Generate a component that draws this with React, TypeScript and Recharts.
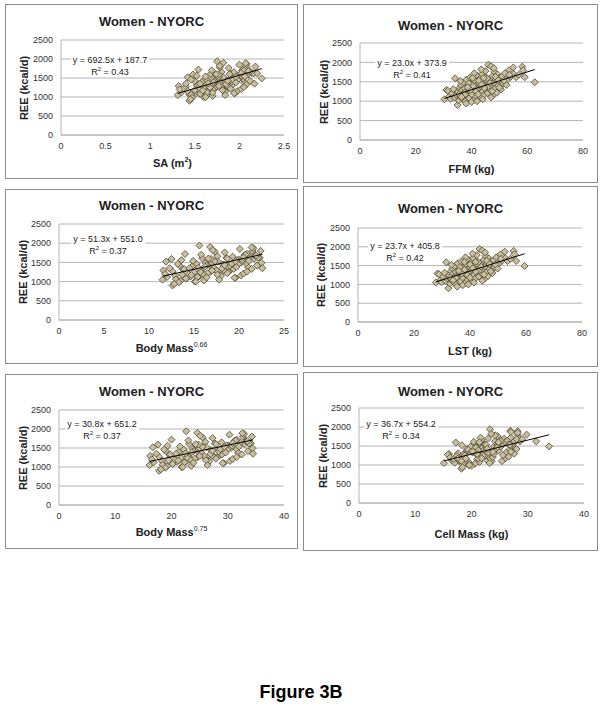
import React from 'react';
import { ScatterChart, Scatter, XAxis, YAxis, CartesianGrid } from 'recharts';

// REE (kcal/d) per subject, shared by all six panels
const ree = [
  1050, 1290, 1270, 1120, 1060, 1200, 1310, 1590, 1090, 1160, 900, 1240, 1020, 1350, 1130, 1420, 1280, 1060, 1190, 1480,
  1330, 1000, 1250, 1560, 1140, 1400, 1300, 1080, 1610, 1220, 1350, 1170, 1460, 1030, 1280, 1540, 1390, 1120, 1660, 1310,
  1200, 1450, 1580, 1100, 1370, 1700, 1250, 1490, 1160, 1420, 1620, 1330, 1520, 1210, 1940, 1440, 1570, 1290, 1900, 1380,
  1650, 1150, 1480, 1760, 1330, 1560, 1220, 1690, 1410, 1600, 1500, 1300, 1640, 1450, 1720, 1420, 1560, 1800, 1630, 1870,
  1700, 1620, 1680, 1890, 1800, 1620, 1490, 1050, 980, 940, 1780, 1720, 1520, 1000, 1100, 1820, 1350, 1460, 1380, 1850,
  1390, 1530, 1340, 1170, 1470, 1250, 1430, 1590, 1290, 1630, 1180, 1540, 1600, 1360, 1530, 1180, 1260, 1110, 1680, 1600,
];

const sa = [
  1.31, 1.32, 1.40, 1.35, 1.44, 1.33, 1.52, 1.48, 1.55, 1.42, 1.44, 1.60, 1.48, 1.40, 1.58, 1.50, 1.66, 1.46, 1.55, 1.70,
  1.54, 1.60, 1.74, 1.52, 1.66, 1.58, 1.80, 1.56, 1.68, 1.72, 1.56, 1.82, 1.63, 1.70, 1.86, 1.62, 1.76, 1.64, 1.80, 1.92,
  1.70, 1.84, 1.74, 1.95, 1.78, 1.69, 1.88, 1.76, 1.98, 1.72, 1.90, 1.93, 1.82, 2.02, 1.75, 1.89, 1.97, 1.80, 1.82, 2.05,
  1.94, 1.84, 2.04, 1.88, 2.08, 1.98, 1.90, 2.03, 1.92, 2.10, 2.00, 1.86, 2.06, 1.98, 2.04, 2.12, 2.02, 2.08, 2.14, 2.08,
  2.05, 2.16, 2.12, 2.07, 2.18, 2.20, 2.25, 1.84, 1.47, 1.45, 1.78, 1.54, 1.42, 1.62, 1.94, 1.78, 2.17, 1.46, 1.96, 2.00,
  1.71, 1.77, 1.85, 1.59, 1.92, 1.67, 1.87, 1.77, 1.77, 2.02, 1.50, 2.06, 1.89, 1.65, 1.96, 1.81, 2.05, 1.70, 2.10, 1.74,
];

const ffm = [
  30.3, 31.0, 31.5, 32.0, 32.5, 33.0, 33.5, 34.1, 34.0, 34.5, 35.0, 35.2, 35.5, 35.8, 36.0, 36.2, 36.5, 36.8, 37.0, 37.2,
  37.5, 37.8, 38.0, 38.2, 38.5, 38.8, 39.0, 39.2, 39.5, 39.8, 40.0, 40.2, 40.5, 40.8, 41.0, 41.2, 41.5, 41.8, 42.0, 42.2,
  42.5, 42.8, 43.0, 43.2, 43.5, 43.8, 44.0, 44.2, 44.5, 44.8, 45.0, 45.2, 45.5, 45.8, 46.0, 46.2, 46.5, 46.8, 47.0, 47.2,
  47.5, 47.8, 48.0, 48.2, 48.5, 48.8, 49.0, 49.3, 49.6, 50.0, 50.3, 50.6, 51.0, 51.4, 52.0, 52.5, 53.0, 53.5, 54.0, 55.0,
  55.2, 56.0, 57.0, 58.2, 58.5, 59.1, 62.7, 44.0, 40.0, 38.0, 45.0, 41.0, 36.0, 42.0, 47.0, 43.5, 50.0, 39.0, 46.0, 48.0,
  40.6, 42.6, 44.6, 37.6, 46.6, 41.6, 43.6, 45.6, 39.6, 48.6, 35.6, 49.6, 44.4, 38.6, 51.6, 42.4, 47.4, 36.4, 53.6, 40.4,
];

const bm066 = [
  11.5, 11.6, 12.6, 12.0, 13.1, 11.8, 13.8, 12.5, 14.2, 12.9, 12.6, 15.0, 13.5, 12.3, 14.6, 13.4, 15.8, 13.0, 14.4, 16.3,
  13.9, 15.1, 16.8, 13.6, 15.6, 14.8, 17.4, 14.1, 15.9, 16.5, 14.5, 17.9, 15.3, 16.1, 18.5, 14.9, 16.9, 15.4, 17.6, 19.1,
  16.0, 18.2, 16.6, 19.6, 17.2, 15.8, 18.8, 17.0, 20.2, 16.4, 18.6, 19.4, 17.7, 20.5, 15.6, 18.9, 20.0, 17.5, 16.8, 21.0,
  19.3, 18.0, 20.8, 18.4, 21.4, 19.8, 18.7, 20.6, 19.0, 21.7, 20.3, 18.3, 21.2, 19.9, 20.9, 22.0, 20.4, 21.5, 22.2, 21.6,
  20.7, 22.3, 21.8, 21.4, 22.4, 22.1, 22.5, 17.8, 13.3, 12.8, 17.3, 14.0, 11.9, 15.2, 19.5, 17.1, 22.6, 13.2, 19.7, 20.1,
  16.2, 17.3, 18.1, 14.7, 19.2, 15.7, 18.4, 16.9, 17.0, 20.5, 13.7, 21.1, 18.7, 15.5, 19.6, 17.6, 20.9, 16.4, 21.9, 16.6,
];

const lst = [
  27.8, 28.4, 28.9, 29.5, 29.9, 30.4, 30.9, 31.5, 31.4, 31.9, 32.3, 32.6, 32.9, 33.2, 33.3, 33.7, 33.9, 34.2, 34.4, 34.6,
  34.9, 35.1, 35.4, 35.6, 35.9, 36.2, 36.3, 36.6, 36.9, 37.2, 37.4, 37.5, 37.9, 38.2, 38.3, 38.6, 38.9, 39.1, 39.4, 39.5,
  39.9, 40.2, 40.3, 40.6, 40.9, 41.1, 41.4, 41.5, 41.9, 42.2, 42.3, 42.6, 42.9, 43.2, 43.4, 43.6, 43.9, 44.2, 44.4, 44.6,
  44.9, 45.2, 45.4, 45.6, 45.9, 46.2, 46.4, 46.7, 47.0, 47.4, 47.7, 48.0, 48.4, 48.8, 49.4, 49.9, 50.4, 50.9, 51.4, 52.4,
  52.6, 53.4, 54.4, 55.6, 55.9, 56.5, 59.5, 41.4, 37.4, 35.4, 42.4, 38.4, 33.4, 39.4, 44.4, 40.9, 47.4, 36.4, 43.4, 45.4,
  38.0, 40.0, 42.0, 35.0, 44.0, 39.0, 41.0, 43.0, 37.0, 46.0, 33.0, 47.0, 42.0, 36.0, 49.0, 40.0, 45.0, 34.0, 51.0, 38.0,
];

const bm075 = [
  16.1, 16.2, 17.8, 16.8, 18.6, 16.5, 19.7, 17.6, 20.3, 18.3, 17.8, 21.7, 19.2, 17.3, 21.0, 19.0, 23.0, 18.4, 20.6, 23.8,
  19.8, 21.8, 24.6, 19.3, 22.6, 21.3, 25.6, 20.2, 23.1, 24.1, 20.8, 26.5, 22.2, 23.5, 27.5, 21.5, 24.8, 22.3, 26.0, 28.6,
  23.3, 27.0, 24.3, 29.3, 25.3, 23.0, 28.0, 25.0, 30.4, 23.9, 27.7, 29.0, 26.2, 30.9, 22.6, 28.2, 30.1, 25.8, 24.6, 31.8,
  28.9, 26.7, 31.5, 27.3, 32.5, 29.8, 27.9, 31.2, 28.4, 33.0, 30.6, 27.2, 32.2, 29.9, 31.6, 33.6, 30.8, 32.7, 34.0, 32.9,
  31.4, 34.1, 33.3, 32.6, 34.3, 33.8, 34.4, 26.4, 18.9, 18.1, 25.5, 20.0, 16.7, 22.0, 29.1, 25.1, 34.5, 18.7, 29.6, 30.3,
  23.6, 25.5, 26.9, 21.2, 28.7, 22.8, 27.3, 24.8, 25.0, 30.9, 19.5, 32.0, 27.9, 22.5, 29.4, 26.1, 31.6, 23.9, 33.5, 24.3,
];

const cellMass = [
  15.1, 16.0, 15.8, 16.5, 17.0, 16.2, 17.6, 17.2, 18.0, 16.8, 18.2, 17.4, 18.4, 19.0, 17.8, 19.2, 18.6, 19.6, 18.0, 19.8,
  20.2, 19.5, 18.8, 20.6, 21.0, 19.4, 20.8, 21.4, 20.4, 21.8, 20.0, 21.2, 22.0, 20.6, 21.6, 22.4, 21.0, 22.8, 21.8, 22.2,
  23.2, 22.6, 21.4, 23.6, 22.0, 23.0, 22.4, 24.0, 23.4, 22.8, 24.2, 23.0, 24.6, 23.8, 23.3, 24.4, 25.0, 24.0, 26.9, 24.8,
  25.4, 25.8, 25.2, 24.6, 26.2, 25.6, 26.6, 25.8, 26.8, 26.0, 27.2, 27.6, 26.4, 27.8, 27.0, 28.0, 27.4, 28.2, 27.6, 27.0,
  28.4, 28.6, 28.0, 28.2, 29.8, 31.5, 33.8, 23.2, 20.0, 18.4, 24.2, 21.6, 18.3, 19.6, 25.4, 23.5, 27.0, 20.8, 24.0, 28.2,
  21.2, 22.6, 23.8, 19.0, 24.6, 22.0, 22.8, 24.8, 21.0, 25.2, 17.6, 26.6, 24.8, 20.2, 26.8, 21.8, 25.6, 18.2, 29.0, 21.4,
];

const xSeries = [sa, ffm, bm066, lst, bm075, cellMass];
const slopes = [692.5, 23.0, 51.3, 23.7, 30.8, 36.7];
const intercepts = [187.7, 373.9, 551.0, 405.8, 651.2, 554.2];
const rSquared = ['0.43', '0.41', '0.37', '0.42', '0.37', '0.34'];
const xTickSets = [
  [0, 0.5, 1, 1.5, 2, 2.5],
  [0, 20, 40, 60, 80],
  [0, 5, 10, 15, 20, 25],
  [0, 20, 40, 60, 80],
  [0, 10, 20, 30, 40],
  [0, 10, 20, 30, 40],
];
const yTicks = [0, 500, 1000, 1500, 2000, 2500];
const chartTitle = 'Women - NYORC';
const yTitle = 'REE (kcal/d)';
const xTitles: React.ReactNode[] = [
  <>SA (m<sup style={{ fontSize: 7, lineHeight: 0 }}>2</sup>)</>,
  'FFM (kg)',
  <>Body Mass<sup style={{ fontSize: 7, fontWeight: 'normal', lineHeight: 0 }}>0.66</sup></>,
  'LST (kg)',
  <>Body Mass<sup style={{ fontSize: 7, fontWeight: 'normal', lineHeight: 0 }}>0.75</sup></>,
  'Cell Mass (kg)',
];

const X_AXIS_H = 20;

// panel boxes and plot rects (inside the border)
const layout = [
  { left: 5, top: 4, w: 293, h: 175, m: { l: 55, r: 13, t: 35, b: 43 }, ty: 16, yx: 18, xy: 158, eq: [104, 55] },
  { left: 303, top: 4, w: 295, h: 179, m: { l: 56, r: 14, t: 38, b: 42 }, ty: 20, yx: 20, xy: 164, eq: [108, 58] },
  { left: 5, top: 189, w: 293, h: 175, m: { l: 53, r: 13, t: 34, b: 43 }, ty: 15, yx: 17, xy: 158, eq: [102, 49] },
  { left: 303, top: 186, w: 295, h: 181, m: { l: 54, r: 15, t: 41, b: 44 }, ty: 21, yx: 17, xy: 164, eq: [101, 59] },
  { left: 5, top: 374, w: 293, h: 175, m: { l: 53, r: 13, t: 35, b: 43 }, ty: 16, yx: 17, xy: 157, eq: [96, 49] },
  { left: 303, top: 372, w: 295, h: 179, m: { l: 55, r: 13, t: 35, b: 47 }, ty: 18, yx: 19, xy: 161, eq: [97, 51] },
];

const FONT = '"Liberation Sans", Arial, sans-serif';

const Diamond = (props: any) => {
  const { cx, cy } = props;
  if (cx == null || cy == null) return null;
  const s = 3.5;
  return (
    <polygon
      points={`${cx},${cy - s} ${cx + s},${cy} ${cx},${cy + s} ${cx - s},${cy}`}
      fill="#c9bf9c"
      stroke="#4b4636"
      strokeWidth={0.8}
    />
  );
};

const NoMark = () => <g />;

const Panel = ({ i }: { i: number }) => {
  const L = layout[i];
  const xs = xSeries[i];
  const data = xs.map((x, k) => ({ x, y: ree[k] }));
  const lo = Math.min(...xs);
  const hi = Math.max(...xs);
  const trend = [lo, hi].map((x) => ({ x, y: slopes[i] * x + intercepts[i] }));
  const ticks = xTickSets[i];
  const cw = L.w - 2;
  const ch = L.h - 2;
  const plotCx = L.m.l + (cw - L.m.l - L.m.r) / 2;
  const plotCy = L.m.t + (ch - L.m.t - L.m.b) / 2;
  return (
    <div
      style={{
        position: 'absolute',
        left: L.left,
        top: L.top,
        width: L.w,
        height: L.h,
        border: '1px solid #8c8c8c',
        boxSizing: 'border-box',
        background: '#fff',
        fontFamily: FONT,
        color: '#222',
      }}
    >
      <ScatterChart
        width={cw}
        height={ch}
        margin={{ top: L.m.t, right: L.m.r, bottom: L.m.b - X_AXIS_H, left: 0 }}
      >
        <CartesianGrid vertical={false} stroke="#b4b4b4" />
        <XAxis
          type="number"
          dataKey="x"
          height={X_AXIS_H}
          domain={[0, ticks[ticks.length - 1]]}
          ticks={ticks}
          tickLine={false}
          axisLine={{ stroke: '#b4b4b4' }}
          tick={{ fontSize: 9, fill: '#333', fontFamily: FONT }}
          interval={0}
        />
        <YAxis
          type="number"
          dataKey="y"
          width={L.m.l}
          domain={[0, 2500]}
          ticks={yTicks}
          tickLine={false}
          axisLine={{ stroke: '#b4b4b4' }}
          tick={{ fontSize: 9, fill: '#333', fontFamily: FONT }}
          interval={0}
        />
        <Scatter data={data} shape={<Diamond />} isAnimationActive={false} />
        <Scatter
          data={trend}
          line={{ stroke: '#000', strokeWidth: 1 }}
          shape={<NoMark />}
          isAnimationActive={false}
        />
      </ScatterChart>
      <div
        style={{
          position: 'absolute',
          left: cw / 2,
          top: L.ty,
          transform: 'translate(-50%, -50%)',
          fontSize: 13,
          fontWeight: 'bold',
          whiteSpace: 'nowrap',
          lineHeight: 1,
        }}
      >
        {chartTitle}
      </div>
      <div
        style={{
          position: 'absolute',
          left: L.yx,
          top: plotCy,
          transform: 'translate(-50%, -50%) rotate(-90deg)',
          fontSize: 11,
          fontWeight: 'bold',
          whiteSpace: 'nowrap',
          lineHeight: 1,
        }}
      >
        {yTitle}
      </div>
      <div
        style={{
          position: 'absolute',
          left: plotCx,
          top: L.xy,
          transform: 'translate(-50%, -50%)',
          fontSize: 11,
          fontWeight: 'bold',
          whiteSpace: 'nowrap',
          lineHeight: '12px',
        }}
      >
        {xTitles[i]}
      </div>
      <div
        style={{
          position: 'absolute',
          left: L.eq[0],
          top: L.eq[1] - 6,
          transform: 'translateX(-50%)',
          fontSize: 9,
          lineHeight: '12px',
          textAlign: 'center',
          whiteSpace: 'nowrap',
          color: '#222',
        }}
      >
        <div style={{ background: '#fff', padding: '0 2px' }}>
          y = {slopes[i].toFixed(1)}x + {intercepts[i].toFixed(1)}
        </div>
        <div style={{ lineHeight: '12px' }}>
          R<sup style={{ fontSize: 6, lineHeight: 0 }}>2</sup> = {rSquared[i]}
        </div>
      </div>
    </div>
  );
};

export default function App() {
  return (
    <div style={{ position: 'absolute', left: 0, top: 0, width: 602, height: 728, background: '#fff' }}>
      {[0, 1, 2, 3, 4, 5].map((i) => (
        <Panel key={i} i={i} />
      ))}
      <div
        style={{
          position: 'absolute',
          left: 301,
          top: 692,
          transform: 'translate(-50%, -50%)',
          fontFamily: FONT,
          fontWeight: 'bold',
          fontSize: 18,
          whiteSpace: 'nowrap',
          lineHeight: 1,
        }}
      >
        Figure 3B
      </div>
    </div>
  );
}
